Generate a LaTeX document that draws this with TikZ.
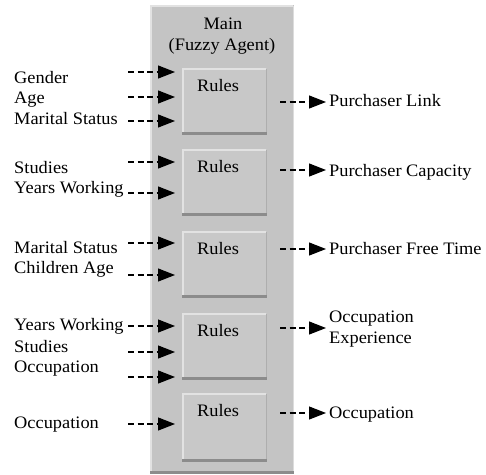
\documentclass[tikz,border=0pt]{standalone}
\usepackage{fontspec}
\setmainfont[FakeStretch=1.05]{Liberation Serif}
\usetikzlibrary{arrows.meta}
\definecolor{panelgray}{HTML}{C4C4C4}
\definecolor{boxgray}{HTML}{C8C8C8}
\definecolor{lightedge}{HTML}{E2E2E2}
\definecolor{darkedge}{HTML}{8C8C8C}
\tikzset{
  lbl/.style={anchor=base west, inner sep=0pt, font=\fontsize{17.5}{20}\selectfont},
  ttl/.style={anchor=base, inner sep=0pt, font=\fontsize{17.5}{20}\selectfont},
  flow/.style={line width=1.1pt, dash pattern=on 6pt off 3.5pt,
    -{Triangle[length=17pt,width=13pt,sharp]}},
}
\newcommand{\rulesbox}[3]{% name, top y, bottom y
  \fill[boxgray] (182,#2) rectangle (267,#3);
  \draw[lightedge, line width=1.6pt] (183,#3-1) -- (183,#2+0.8) -- (266,#2+0.8);
  \draw[darkedge!70!white, line width=1pt] (266.3,#2+1) -- (266.3,#3-1);
  \draw[darkedge, line width=2.6pt] (182,#3-1.3) -- (267,#3-1.3);
  \coordinate (#1) at (224.5,{(#2+#3)/2});
  \node[ttl] at (218,#2+23) {Rules};
}
\begin{document}
\begin{tikzpicture}[x=1pt,y=-1pt]
\useasboundingbox (0,0) rectangle (486,474);
% main panel
\fill[panelgray] (150,5) rectangle (294,474);
\draw[lightedge, line width=2pt] (151,473) -- (151,6) -- (293,6);
\draw[lightedge!80!panelgray, line width=1.2pt] (293.4,6) -- (293.4,472);
\draw[darkedge, line width=2.5pt] (150,472.5) -- (294,472.5);
\node[ttl] (main) at (223,29) {Main};
\node[ttl] (fuzzy) at (222,50) {(Fuzzy Agent)};
% rules boxes
\rulesbox{r1}{68}{135}
\rulesbox{r2}{149}{216}
\rulesbox{r3}{231}{298}
\rulesbox{r4}{313}{380}
\rulesbox{r5}{393}{462}
% left labels
\node[lbl] (gender) at (14,83) {Gender};
\node[lbl] (age) at (14,103) {Age};
\node[lbl] (marital1) at (14,124) {Marital Status};
\node[lbl] (studies1) at (14,173) {Studies};
\node[lbl] (years1) at (14,193) {Years Working};
\node[lbl] (marital2) at (14,253) {Marital Status};
\node[lbl] (children) at (14,273) {Children Age};
\node[lbl] (years2) at (14,330) {Years Working};
\node[lbl] (studies2) at (14,352) {Studies};
\node[lbl] (occ1) at (14,372) {Occupation};
\node[lbl] (occ2) at (14,428) {Occupation};
% input arrow coordinates
\foreach \n/\y in {a/72,b/97,c/121,d/162,e/193,f/243,g/275,h/326,i/352,j/377,k/424}{
  \coordinate (in\n s) at (128,\y);
  \coordinate (in\n e) at (175,\y);
}
\foreach \n in {a,b,c,d,e,f,g,h,i,j,k}{
  \draw[flow] (in\n s) -- (in\n e);
}
% right labels
\node[lbl] (plink) at (329,106) {Purchaser Link};
\node[lbl] (pcap) at (329,176) {Purchaser Capacity};
\node[lbl] (pfree) at (329,254) {Purchaser Free Time};
\node[lbl] (oexp1) at (329,322) {Occupation};
\node[lbl] (oexp2) at (329,343) {Experience};
\node[lbl] (occout) at (329,418) {Occupation};
% output arrows
\foreach \n/\y in {a/102,b/170,c/249,d/328,e/413}{
  \coordinate (out\n s) at (280,\y);
  \coordinate (out\n e) at (326,\y);
}
\foreach \n in {a,b,c,d,e}{
  \draw[flow] (out\n s) -- (out\n e);
}
\end{tikzpicture}
\end{document}
